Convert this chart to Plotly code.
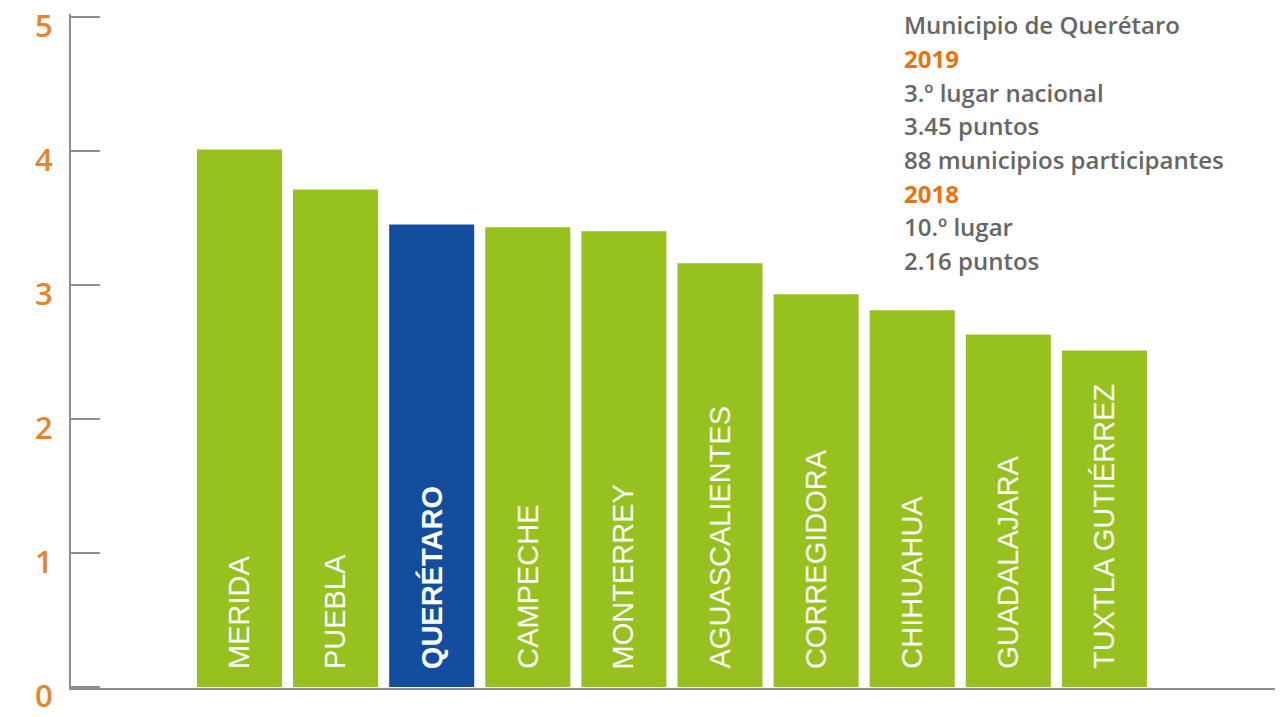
import plotly.graph_objects as go

categories = ["MERIDA", "PUEBLA", "QUERÉTARO", "CAMPECHE", "MONTERREY",
              "AGUASCALIENTES", "CORREGIDORA", "CHIHUAHUA", "GUADALAJARA",
              "TUXTLA GUTIÉRREZ"]
values = [4.01, 3.71, 3.45, 3.43, 3.40, 3.16, 2.93, 2.81, 2.63, 2.51]
highlight = "QUERÉTARO"
y_ticks = [0, 1, 2, 3, 4, 5]

info_lines = ["Municipio de Querétaro", "2019", "3.º lugar nacional", "3.45 puntos",
              "88 municipios participantes", "2018", "10.º lugar", "2.16 puntos"]
info_orange = ["2019", "2018"]

GREEN = "#97C11F"
BLUE = "#134E9E"
ORANGE = "#E8730F"
TICK_ORANGE = "#E8832A"
GRAY_TEXT = "#666666"
AXIS_GRAY = "#8f8f8f"

colors = [BLUE if c == highlight else GREEN for c in categories]

fig = go.Figure()
fig.add_trace(go.Bar(
    x=list(range(len(categories))), y=values,
    marker=dict(color=colors, line=dict(width=0)),
    hoverinfo="skip",
))

# rotated labels inside bars
for i, (c, v) in enumerate(zip(categories, values)):
    fig.add_annotation(
        x=i, y=0, xref="x", yref="y", text=c, showarrow=False,
        textangle=-90, xanchor="center", yanchor="bottom", yshift=16,
        font=dict(family="Liberation Sans, Arial, sans-serif", size=29, color="white",
                  weight="bold" if c == highlight else "normal"),
    )

# info text block (top right)
L, R, T, B = 71, 6, 14, 29
W, H = 1281, 717
pw, ph = W - L - R, H - T - B
line0, step = 25, 33.6
for k, line in enumerate(info_lines):
    py = line0 + k * step
    fig.add_annotation(
        x=(902 - L) / pw, y=1 - (py - T) / ph, xref="paper", yref="paper",
        text=line, showarrow=False, xanchor="left", yanchor="middle",
        font=dict(family="Open Sans, sans-serif", size=24,
                  color=ORANGE if line in info_orange else GRAY_TEXT,
                  weight=700 if line in info_orange else 600),
    )

fig.update_layout(
    width=W, height=H,
    margin=dict(l=L, r=R, t=T, b=B, pad=0, autoexpand=False),
    paper_bgcolor="white", plot_bgcolor="white",
    showlegend=False, bargap=0.115,
    xaxis=dict(range=[-1.753, 10.775], showticklabels=False, ticks="",
               showgrid=False, zeroline=False, showline=True,
               linecolor=AXIS_GRAY, linewidth=2, fixedrange=True),
    yaxis=dict(range=[-0.0075, 5.02], tickvals=y_ticks, ticktext=[str(t) for t in y_ticks],
               ticks="inside", ticklen=29, tickwidth=2, tickcolor=AXIS_GRAY,
               showgrid=False, zeroline=False, showline=True, automargin=False,
               linecolor=AXIS_GRAY, linewidth=2, ticklabelstandoff=10,
               ticklabelshift=9, ticklabeloverflow="allow",
               tickfont=dict(family="Open Sans, sans-serif", size=31, color=TICK_ORANGE,
                             weight=600),
               fixedrange=True),
)

fig.write_html("out.html", config={"displayModeBar": False},
               post_script="document.body.style.margin='0';document.body.style.padding='0';")
